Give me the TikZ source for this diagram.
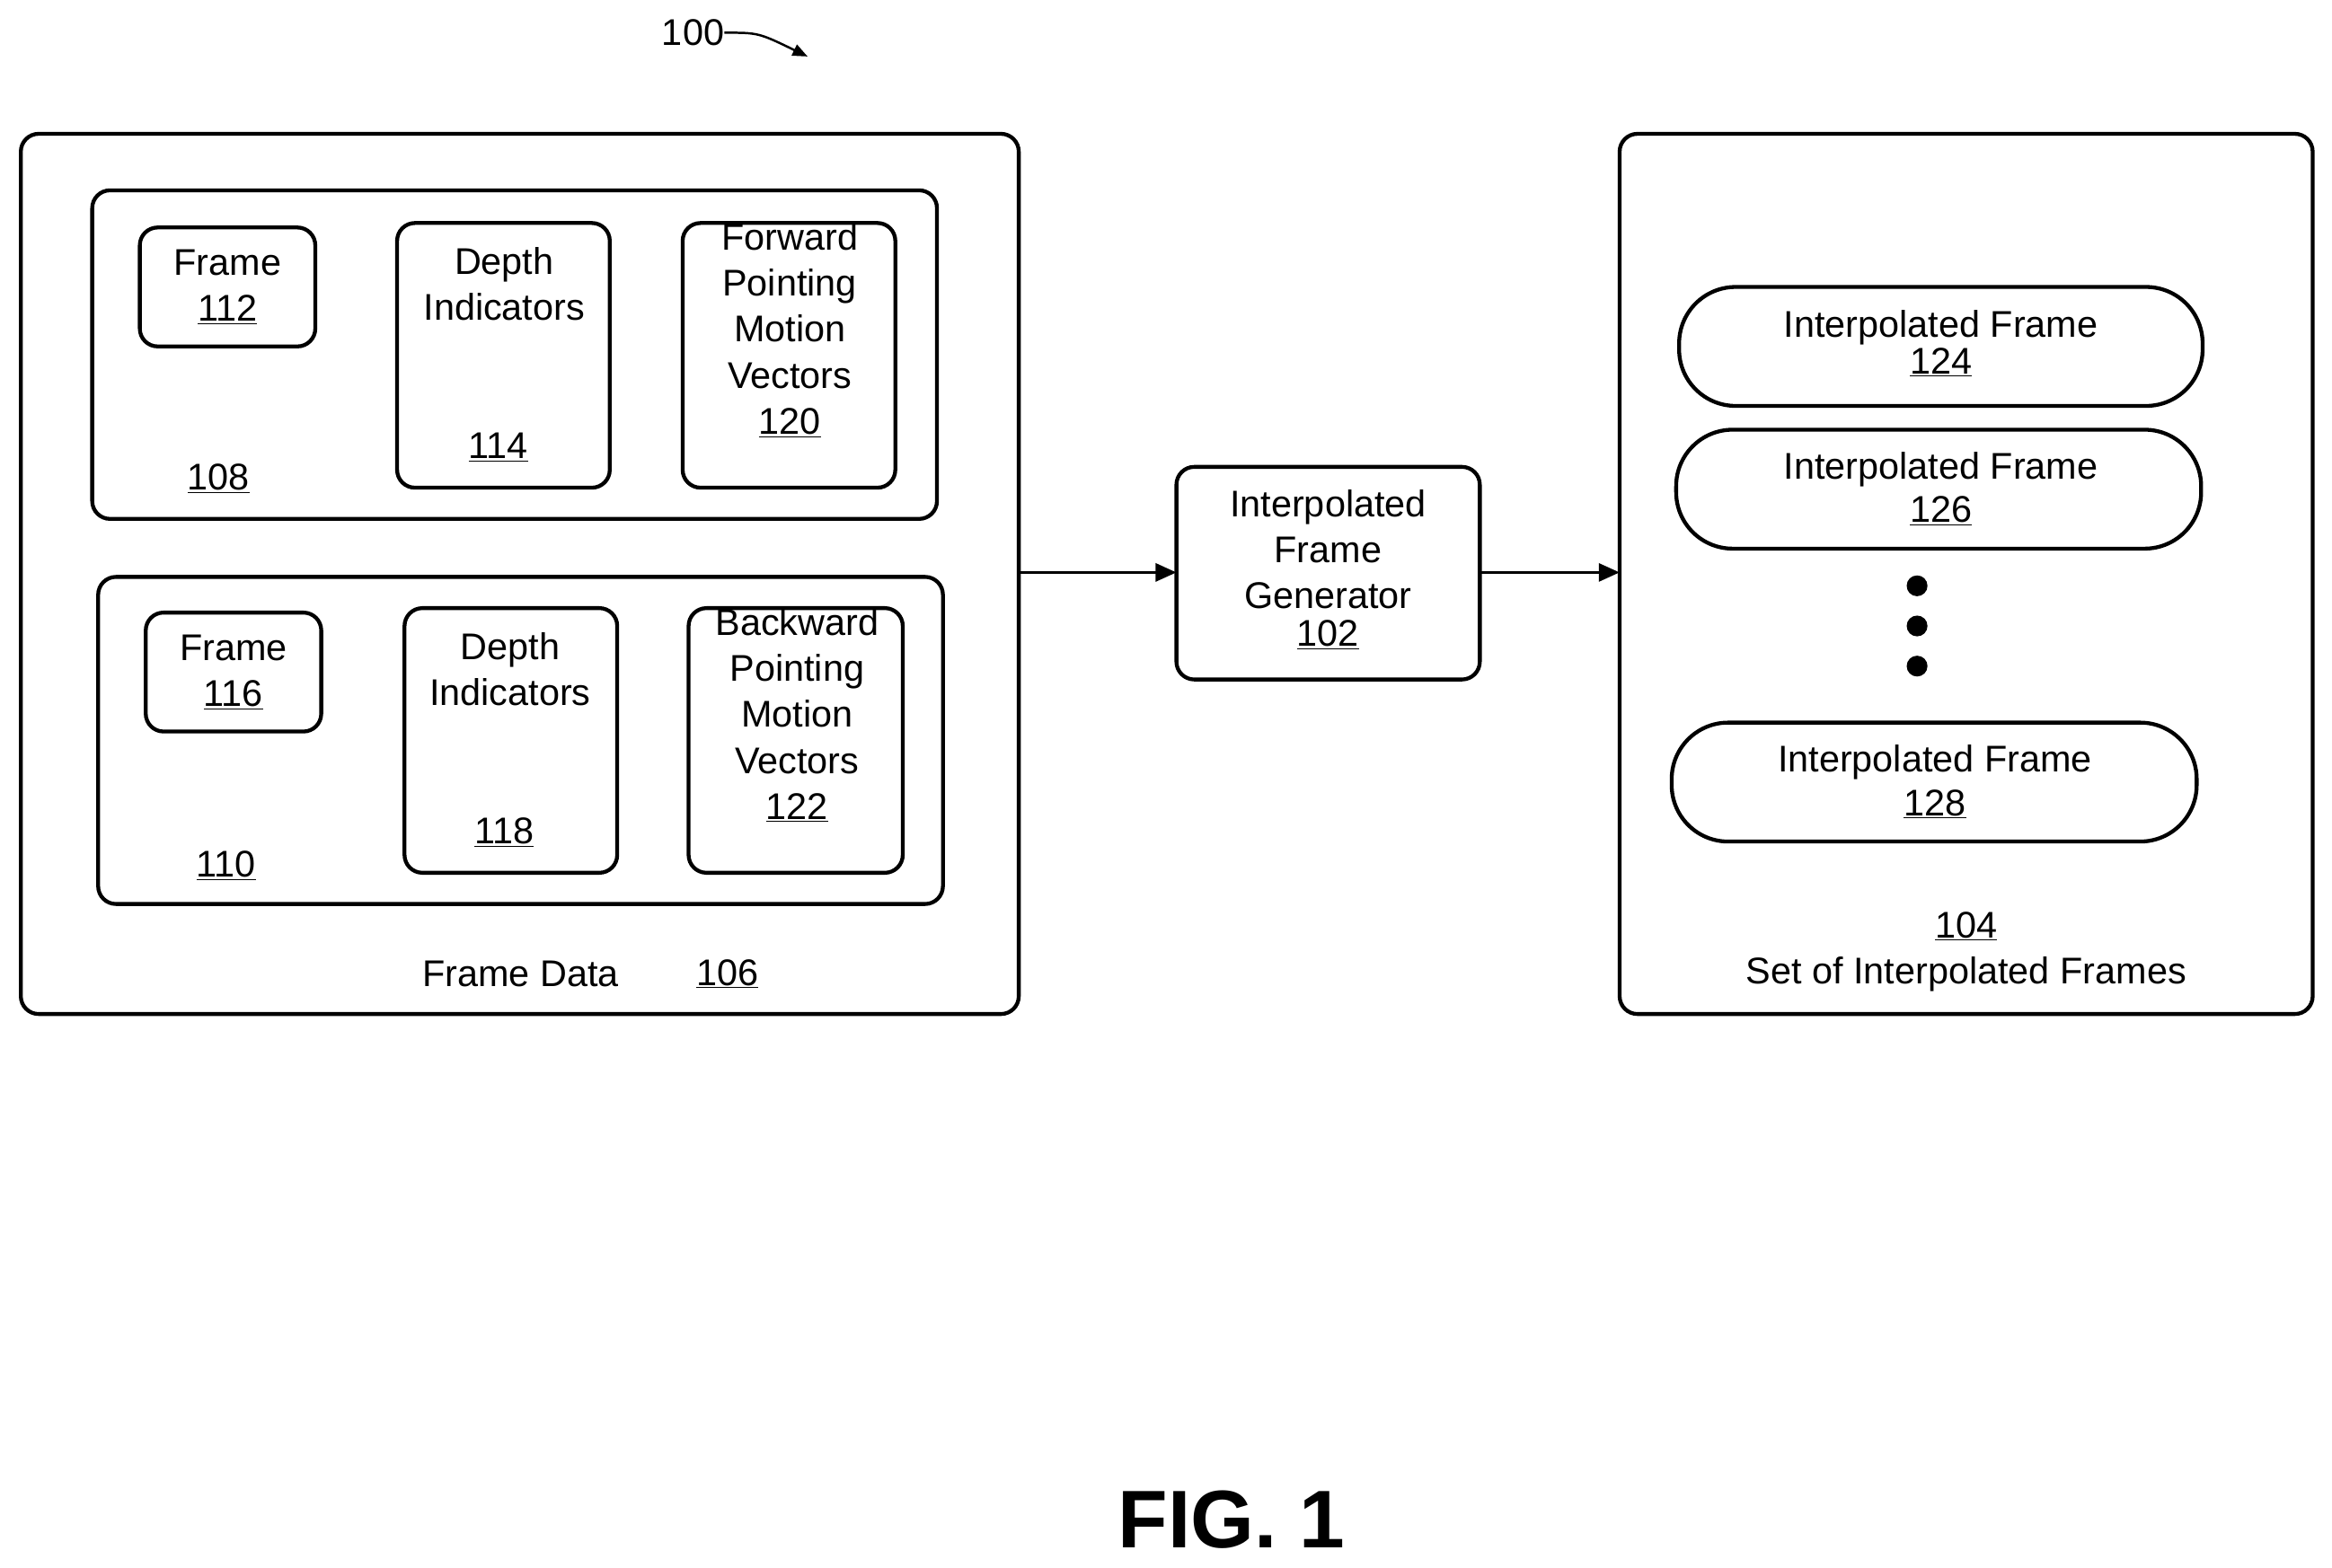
\documentclass[tikz,border=0pt]{standalone}
\usepackage{fontspec}
\setmainfont{Liberation Sans}
\usetikzlibrary{arrows.meta}
\begin{document}
\begin{tikzpicture}[x=1pt,y=-1pt,
  bx/.style={draw,line width=2.6pt,rounded corners=12pt},
  pill/.style={draw,line width=2.6pt,rounded corners=38pt},
  t/.style={font=\fontsize{25}{31}\selectfont,align=center,inner sep=0},
  ar/.style={line width=2.2pt,-{Triangle[length=14pt,width=12pt]}}]
\useasboundingbox (0,0) rectangle (1568,1054);
\draw[bx] (14,90) rectangle (685,682);
\draw[bx] (62,128) rectangle (630,349);
\draw[bx] (94,153) rectangle (212,233);
\draw[bx] (267,150) rectangle (410,328);
\draw[bx] (459,150) rectangle (602,328);
\draw[bx] (66,388) rectangle (634,608);
\draw[bx] (98,412) rectangle (216,492);
\draw[bx] (272,409) rectangle (415,587);
\draw[bx] (463,409) rectangle (607,587);
\draw[bx] (791,314) rectangle (995,457);
\draw[bx] (1089,90) rectangle (1555,682);
\draw[pill] (1129,193) rectangle (1481,273);
\draw[pill] (1127,289) rectangle (1480,369);
\draw[pill] (1124,486) rectangle (1477,566);
\foreach \y in {394,421,448} \fill (1289,\y) circle (7);
\node[t] (f112) at (153,193) {Frame\\\underline{112}};
\node[t] (d114) at (339,191) {Depth\\Indicators};
\node[t] at (335,301) {\underline{114}};
\node[t] (v120) at (531,222) {Forward\\Pointing\\Motion\\Vectors\\\underline{120}};
\node[t] at (147,322) {\underline{108}};
\node[t] (f116) at (157,452) {Frame\\\underline{116}};
\node[t] (d118) at (343,450) {Depth\\Indicators};
\node[t] at (339,560) {\underline{118}};
\node[t] (v122) at (536,481) {Backward\\Pointing\\Motion\\Vectors\\\underline{122}};
\node[t] at (152,582) {\underline{110}};
\node[t] at (350,655) {Frame Data};
\node[t] at (489,655) {\underline{106}};
\node[t] (g102) at (893,383) {Interpolated\\Frame\\Generator\\[-6pt]\underline{102}};
\node[t] at (1305,231) {Interpolated Frame\\[-6pt]\underline{124}};
\node[t] at (1305,329) {Interpolated Frame\\[-2pt]\underline{126}};
\node[t] at (1301,526) {Interpolated Frame\\[-2pt]\underline{128}};
\node[t] at (1322,623) {\underline{104}};
\node[t] at (1322,655) {Set of Interpolated Frames};
\coordinate (a1) at (685,385); \coordinate (a2) at (791,385);
\coordinate (b1) at (995,385); \coordinate (b2) at (1089,385);
\draw[ar] (a1) -- (a2);
\draw[ar] (b1) -- (b2);
\node[t] (n100) at (466,22) {100};
\coordinate (e100) at (543,38);
\draw[line width=1.5pt,-{Triangle[length=10pt,width=8pt]}] (n100.east) .. controls (510,22) .. (e100);
\node[t,font=\fontsize{55}{60}\selectfont\bfseries] at (828,1022) {FIG. 1};
\end{tikzpicture}
\end{document}
